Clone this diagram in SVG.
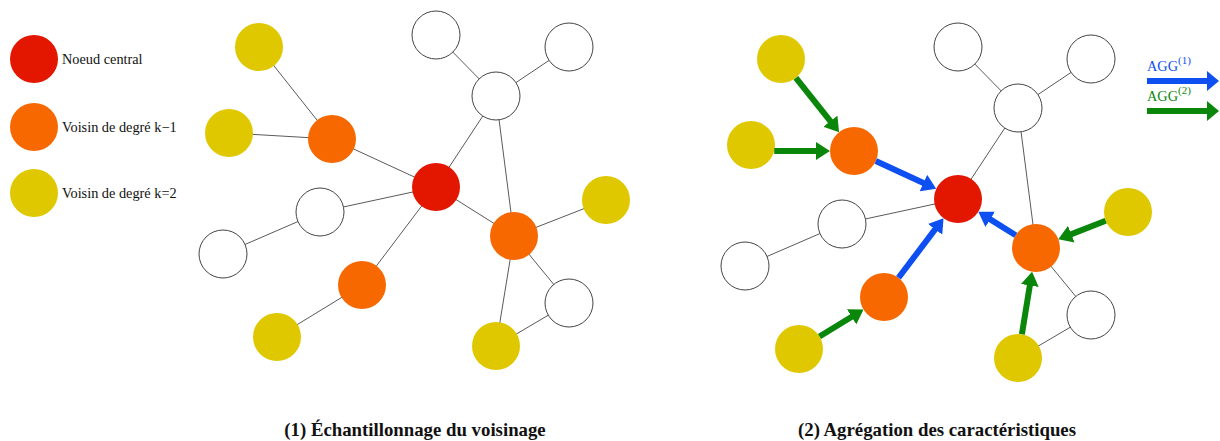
<svg xmlns="http://www.w3.org/2000/svg" width="1220" height="441" viewBox="0 0 1220 441">
<style>
.t{font-family:"Liberation Serif","Times New Roman",serif;fill:#111}
.leg{font-size:14.3px}
.cap{font-size:18.8px;font-weight:bold;text-anchor:middle}
.red{fill:#E31600}
.ora{fill:#F76800}
.yel{fill:#E0C800}
.wht{fill:#fff;stroke:#444;stroke-width:1}
.e{stroke:#5a5a5a;stroke-width:1;fill:none}
.ab{stroke:#0D4FF0;stroke-width:6;marker-end:url(#hb)}
.ag{stroke:#0A870A;stroke-width:6;marker-end:url(#hg)}
</style>
<defs>
<marker id="hb" viewBox="0 0 14 18" markerWidth="14" markerHeight="18" markerUnits="userSpaceOnUse" refX="6" refY="9" orient="auto"><path d="M0,0 L14,9 L0,18 z" fill="#0D4FF0"/></marker>
<marker id="hg" viewBox="0 0 14 18" markerWidth="14" markerHeight="18" markerUnits="userSpaceOnUse" refX="6" refY="9" orient="auto"><path d="M0,0 L14,9 L0,18 z" fill="#0A870A"/></marker>
<marker id="lb" viewBox="0 0 12 20" markerWidth="12" markerHeight="20" markerUnits="userSpaceOnUse" refX="4" refY="10" orient="auto"><path d="M0,0 L12,10 L0,20 z" fill="#0D4FF0"/></marker>
<marker id="lg" viewBox="0 0 12 20" markerWidth="12" markerHeight="20" markerUnits="userSpaceOnUse" refX="4" refY="10" orient="auto"><path d="M0,0 L12,10 L0,20 z" fill="#0A870A"/></marker>
</defs>
<rect width="1220" height="441" fill="#fff"/>

<g id="legend">
<g id="leg-central"><circle cx="34" cy="59" r="24" class="red"/><text x="62" y="64" class="t leg">Noeud central</text></g>
<g id="leg-k1"><circle cx="34" cy="127" r="24" class="ora"/><text x="62" y="132" class="t leg">Voisin de degré k−1</text></g>
<g id="leg-k2"><circle cx="34" cy="193" r="24" class="yel"/><text x="62" y="198" class="t leg">Voisin de degré k=2</text></g>
</g>

<g id="agg-legend">
<text x="1147" y="71" class="t" style="font-size:14.3px;fill:#0D4FF0">AGG<tspan dy="-7" style="font-size:11px">(1)</tspan></text>
<line x1="1147" y1="81" x2="1211" y2="81" stroke="#0D4FF0" stroke-width="6" marker-end="url(#lb)"/>
<text x="1147" y="101" class="t" style="font-size:14.3px;fill:#0A870A">AGG<tspan dy="-7" style="font-size:11px">(2)</tspan></text>
<line x1="1147" y1="111" x2="1211" y2="111" stroke="#0A870A" stroke-width="6" marker-end="url(#lg)"/>
</g>

<!-- Graph 1 -->
<g id="graph1">
<g id="g1-connectors">
<line class="e" x1="259" y1="47" x2="332" y2="139"/>
<line class="e" x1="229" y1="133" x2="332" y2="139"/>
<line class="e" x1="332" y1="139" x2="436" y2="187"/>
<line class="e" x1="436" y1="187" x2="496" y2="96"/>
<line class="e" x1="496" y1="96" x2="436" y2="35"/>
<line class="e" x1="496" y1="96" x2="569" y2="47"/>
<line class="e" x1="496" y1="96" x2="514" y2="236"/>
<line class="e" x1="436" y1="187" x2="320" y2="212"/>
<line class="e" x1="320" y1="212" x2="223" y2="254"/>
<line class="e" x1="436" y1="187" x2="362" y2="285"/>
<line class="e" x1="362" y1="285" x2="277" y2="337"/>
<line class="e" x1="436" y1="187" x2="514" y2="236"/>
<line class="e" x1="514" y1="236" x2="606" y2="200"/>
<line class="e" x1="514" y1="236" x2="569" y2="303"/>
<line class="e" x1="514" y1="236" x2="496" y2="346"/>
<line class="e" x1="569" y1="303" x2="496" y2="346"/>
</g>
<g id="g1-yTL"><circle cx="259" cy="47" r="24" class="yel"/></g>
<g id="g1-yL"><circle cx="229" cy="133" r="24" class="yel"/></g>
<g id="g1-oL"><circle cx="332" cy="139" r="24" class="ora"/></g>
<g id="g1-red"><circle cx="436" cy="187" r="24" class="red"/></g>
<g id="g1-wTop"><circle cx="436" cy="35" r="24" class="wht"/></g>
<g id="g1-wTR"><circle cx="569" cy="47" r="24" class="wht"/></g>
<g id="g1-wMid"><circle cx="496" cy="96" r="24" class="wht"/></g>
<g id="g1-wLM"><circle cx="320" cy="212" r="24" class="wht"/></g>
<g id="g1-wFL"><circle cx="223" cy="254" r="24" class="wht"/></g>
<g id="g1-oB"><circle cx="362" cy="285" r="24" class="ora"/></g>
<g id="g1-yBL"><circle cx="277" cy="337" r="24" class="yel"/></g>
<g id="g1-oR"><circle cx="514" cy="236" r="24" class="ora"/></g>
<g id="g1-yR"><circle cx="606" cy="200" r="24" class="yel"/></g>
<g id="g1-wBR"><circle cx="569" cy="303" r="24" class="wht"/></g>
<g id="g1-yB"><circle cx="496" cy="346" r="24" class="yel"/></g>
</g>

<!-- Graph 2 -->
<g id="graph2" transform="translate(522,12)">
<g id="g2-connectors">
<line class="e" x1="436" y1="187" x2="496" y2="96"/>
<line class="e" x1="496" y1="96" x2="436" y2="35"/>
<line class="e" x1="496" y1="96" x2="569" y2="47"/>
<line class="e" x1="496" y1="96" x2="514" y2="236"/>
<line class="e" x1="436" y1="187" x2="320" y2="212"/>
<line class="e" x1="320" y1="212" x2="223" y2="254"/>
<line class="e" x1="514" y1="236" x2="569" y2="303"/>
<line class="e" x1="569" y1="303" x2="496" y2="346"/>
</g>
<g id="g2-yTL"><circle cx="259" cy="47" r="24" class="yel"/></g>
<g id="g2-yL"><circle cx="229" cy="133" r="24" class="yel"/></g>
<g id="g2-oL"><circle cx="332" cy="139" r="24" class="ora"/></g>
<g id="g2-red"><circle cx="436" cy="187" r="24" class="red"/></g>
<g id="g2-wTop"><circle cx="436" cy="35" r="24" class="wht"/></g>
<g id="g2-wTR"><circle cx="569" cy="47" r="24" class="wht"/></g>
<g id="g2-wMid"><circle cx="496" cy="96" r="24" class="wht"/></g>
<g id="g2-wLM"><circle cx="320" cy="212" r="24" class="wht"/></g>
<g id="g2-wFL"><circle cx="223" cy="254" r="24" class="wht"/></g>
<g id="g2-oB"><circle cx="362" cy="285" r="24" class="ora"/></g>
<g id="g2-yBL"><circle cx="277" cy="337" r="24" class="yel"/></g>
<g id="g2-oR"><circle cx="514" cy="236" r="24" class="ora"/></g>
<g id="g2-yR"><circle cx="606" cy="200" r="24" class="yel"/></g>
<g id="g2-wBR"><circle cx="569" cy="303" r="24" class="wht"/></g>
<g id="g2-yB"><circle cx="496" cy="346" r="24" class="yel"/></g>
<g id="g2-arrows">
<line class="ag" x1="273.9" y1="65.8" x2="312.1" y2="113.9"/>
<line class="ag" x1="252.2" y1="139" x2="300" y2="139"/>
<line class="ag" x1="297.5" y1="324.5" x2="334.7" y2="301.7"/>
<line class="ag" x1="583.7" y1="208.7" x2="543.7" y2="224.4"/>
<line class="ag" x1="499.9" y1="322.3" x2="508.8" y2="267.6"/>
<line class="ab" x1="353.8" y1="149.1" x2="406.9" y2="173.5"/>
<line class="ab" x1="376.5" y1="265.8" x2="416.7" y2="212.6"/>
<line class="ab" x1="493.7" y1="223.2" x2="463.1" y2="204.1"/>
</g>
</g>

<g id="captions">
<text x="415" y="436" class="t cap">(1) Échantillonnage du voisinage</text>
<text x="937" y="436" class="t cap">(2) Agrégation des caractéristiques</text>
</g>
</svg>
